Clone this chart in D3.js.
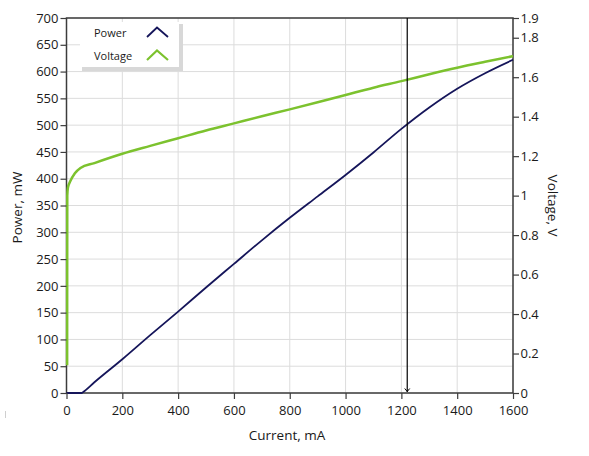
<!DOCTYPE html>
<meta charset="utf-8">
<title>Power and Voltage vs Current</title>
<script src="https://d3js.org/d3.v7.min.js"></script>
<style>
  body { margin: 0; background: #fff; }
  text { font-family: "Open Sans", "Noto Sans", sans-serif; fill: #1a1a1a; }
</style>
<body>
<script>

// Data
const powerCurrent = [0, 54, 60, 100, 200, 300, 400, 500, 600, 700, 800, 900, 1000, 1100, 1200, 1300, 1400, 1500, 1600];
const powerValues  = [0, 0, 2, 20, 63, 108, 152, 197, 241, 285, 327, 367, 407, 449, 493, 533, 568, 597, 622];

const voltCurrent = [2.3, 2.5, 2.8, 5, 12.5, 30, 50, 100, 200, 300, 400, 500, 600, 700, 800, 900, 1000, 1100, 1200, 1300, 1400, 1500, 1600];
const voltValues  = [0.14, 0.6, 1.0, 1.04, 1.07, 1.113, 1.14, 1.165, 1.212, 1.252, 1.291, 1.33, 1.366, 1.402, 1.437, 1.473, 1.51, 1.547, 1.58, 1.615, 1.648, 1.678, 1.707];

const xTicks = [0, 200, 400, 600, 800, 1000, 1200, 1400, 1600];
const leftTicks = d3.range(0, 701, 50);
const rightTicks = [0, 0.2, 0.4, 0.6, 0.8, 1, 1.2, 1.4, 1.6, 1.8, 1.9];

const cursorCurrent = 1221;

const seriesNames = ["Power", "Voltage"];
const seriesColors = ["#15155a", "#7cc22e"];

// Layout
const width = 589, height = 456;
const margin = { top: 18, right: 76, bottom: 63, left: 66.5 };
const innerW = width - margin.left - margin.right;
const innerH = height - margin.top - margin.bottom;

const svg = d3.select("body").append("svg")
  .attr("width", width)
  .attr("height", height);

const g = svg.append("g")
  .attr("transform", `translate(${margin.left},${margin.top})`);

const x = d3.scaleLinear().domain([0, 1600]).range([0, innerW]);
const yP = d3.scaleLinear().domain([0, 700]).range([innerH, 0]);
const yV = d3.scaleLinear().domain([0, 1.9]).range([innerH, 0]);

// grid
g.append("g").selectAll("line")
  .data(leftTicks)
  .join("line")
  .attr("x1", 0).attr("x2", innerW)
  .attr("y1", d => yP(d)).attr("y2", d => yP(d))
  .attr("stroke", "#dcdcdc");

g.append("g").selectAll("line")
  .data(xTicks)
  .join("line")
  .attr("x1", d => x(d)).attr("x2", d => x(d))
  .attr("y1", 0).attr("y2", innerH)
  .attr("stroke", "#dcdcdc");

// frame
g.append("rect")
  .attr("width", innerW).attr("height", innerH)
  .attr("fill", "none")
  .attr("stroke", "#3c3c3c")
  .attr("stroke-width", 1.5);

// lines
const powerLine = d3.line()
  .x((d, i) => x(powerCurrent[i]))
  .y(d => yP(d))
  .curve(d3.curveMonotoneX);

const voltLine = d3.line()
  .x((d, i) => x(voltCurrent[i]))
  .y(d => yV(d))
  .curve(d3.curveMonotoneX);

g.append("path")
  .datum(voltValues)
  .attr("fill", "none")
  .attr("stroke", seriesColors[1])
  .attr("stroke-width", 2.5)
  .attr("d", voltLine);

g.append("path")
  .datum(powerValues)
  .attr("fill", "none")
  .attr("stroke", seriesColors[0])
  .attr("stroke-width", 1.8)
  .attr("d", powerLine);

// cursor
g.append("line")
  .attr("x1", x(cursorCurrent)).attr("x2", x(cursorCurrent))
  .attr("y1", 0).attr("y2", innerH - 1)
  .attr("stroke", "#000")
  .attr("stroke-width", 1.2);

g.append("path")
  .attr("d", `M${x(cursorCurrent) - 2.5},${innerH - 4.5} L${x(cursorCurrent)},${innerH - 1.5} L${x(cursorCurrent) + 2.5},${innerH - 4.5}`)
  .attr("fill", "none")
  .attr("stroke", "#000")
  .attr("stroke-width", 1);

// axes
const axisFont = 13;

const xAxis = g.append("g")
  .attr("transform", `translate(0,${innerH})`)
  .call(d3.axisBottom(x).tickValues(xTicks).tickSize(6).tickPadding(6.5).tickFormat(d3.format("d")));

const leftAxis = g.append("g")
  .call(d3.axisLeft(yP).tickValues(leftTicks).tickSize(6).tickPadding(2).tickFormat(d3.format("d")));

const rightAxis = g.append("g")
  .attr("transform", `translate(${innerW},0)`)
  .call(d3.axisRight(yV).tickValues(rightTicks).tickSize(6).tickPadding(1.5).tickFormat(d => String(d)));

[xAxis, leftAxis, rightAxis].forEach(a => {
  a.select(".domain").remove();
  a.selectAll(".tick line").attr("stroke", "#3c3c3c").attr("stroke-width", 1.2);
  a.selectAll(".tick text")
    .attr("font-size", axisFont)
    .attr("font-family", "'Open Sans', 'Noto Sans', sans-serif")
    .attr("fill", "#1a1a1a");
});

// axis titles
svg.append("text")
  .attr("x", 287)
  .attr("y", 440)
  .attr("text-anchor", "middle")
  .attr("font-size", 13.5)
  .text("Current, mA");

svg.append("text")
  .attr("transform", `translate(22,${margin.top + innerH / 2 + 2}) rotate(-90)`)
  .attr("text-anchor", "middle")
  .attr("font-size", 13.5)
  .text("Power, mW");

svg.append("text")
  .attr("transform", `translate(548,${margin.top + innerH / 2}) rotate(90)`)
  .attr("text-anchor", "middle")
  .attr("font-size", 13.5)
  .text("Voltage, V");

// legend
const legend = svg.append("g").attr("transform", "translate(80,22)");

legend.append("rect")
  .attr("x", 2).attr("y", 2)
  .attr("width", 101).attr("height", 47)
  .attr("fill", "#d8d8d8");

legend.append("rect")
  .attr("width", 99).attr("height", 45)
  .attr("fill", "#fff");

const items = legend.selectAll("g.item")
  .data(seriesNames)
  .join("g")
  .attr("class", "item")
  .attr("transform", (d, i) => `translate(0,${i * 23})`);

items.append("text")
  .attr("x", 14)
  .attr("y", 14.5)
  .attr("font-size", 11)
  .text(d => d);

items.append("path")
  .attr("d", "M67,15 L77,5.5 L88,15")
  .attr("fill", "none")
  .attr("stroke", (d, i) => seriesColors[i])
  .attr("stroke-width", (d, i) => i === 0 ? 1.8 : 2.2);

// small stray mark at lower left
svg.append("line")
  .attr("x1", 5.5).attr("x2", 5.5)
  .attr("y1", 411).attr("y2", 418)
  .attr("stroke", "#cfcfcf");

</script>
</body>
